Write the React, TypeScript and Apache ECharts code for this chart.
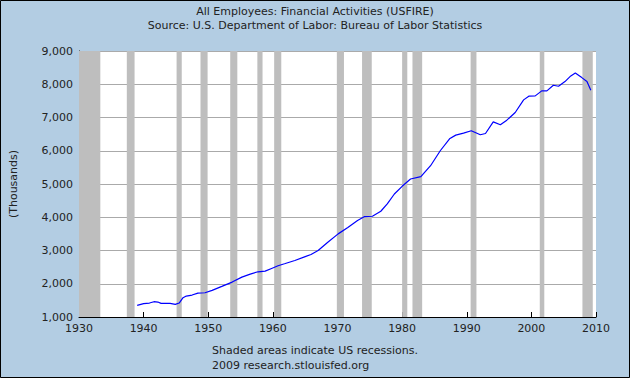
import React, { useEffect, useRef } from "react";
import * as echarts from "echarts";

const titleLines = [
  "All Employees: Financial Activities (USFIRE)",
  "Source: U.S. Department of Labor: Bureau of Labor Statistics",
];
const footerLines = ["Shaded areas indicate US recessions.", "2009 research.stlouisfed.org"];
const yAxisName = "(Thousands)";

const years = [
  1939.0, 1940.0, 1940.9, 1941.6, 1942.2, 1942.7, 1944.1, 1944.9, 1945.5, 1946.1, 1946.6, 1947.5,
  1948.4, 1949.5, 1950.6, 1952.1, 1953.7, 1955.2, 1956.5, 1957.7, 1958.8, 1959.8, 1960.8, 1961.8,
  1963.4, 1964.9, 1965.9, 1967.0, 1968.5, 1970.1, 1971.6, 1973.1, 1974.2, 1975.4, 1976.7, 1977.7,
  1978.8, 1980.0, 1981.3, 1982.9, 1984.4, 1985.9, 1987.4, 1988.3, 1989.5, 1990.7, 1992.1, 1992.9,
  1994.1, 1995.2, 1996.2, 1997.5, 1998.8, 1999.6, 2000.6, 2001.6, 2002.4, 2003.4, 2004.2, 2005.2,
  2006.1, 2006.8, 2007.8, 2008.6, 2009.2,
];
const employees = [
  1350, 1400, 1420, 1460, 1450, 1410, 1410, 1380, 1420, 1580, 1630, 1660,
  1720, 1730, 1800, 1920, 2050, 2200, 2290, 2360, 2380, 2460, 2540, 2600,
  2700, 2810, 2880, 3000, 3250, 3500, 3690, 3900, 4020, 4030, 4180, 4400,
  4700, 4930, 5150, 5220, 5550, 6000, 6370, 6470, 6530, 6600, 6480, 6520,
  6870, 6780, 6920, 7150, 7530, 7640, 7650, 7800, 7800, 7970, 7940, 8080,
  8250, 8340, 8200, 8080, 7820,
];

const recessionStarts = [1930, 1937.4, 1945.1, 1948.8, 1953.4, 1957.6, 1960.2, 1969.9, 1973.8, 1980.0, 1981.6, 1990.6, 2001.3, 2007.9];
const recessionEnds = [1933.3, 1938.6, 1945.9, 1949.9, 1954.5, 1958.4, 1961.3, 1971.0, 1975.3, 1980.8, 1983.1, 1991.5, 2002.0, 2009.5];

const xMin = 1930;
const xMax = 2010;
const yMin = 1000;
const yMax = 9000;

export default function App() {
  const ref = useRef<HTMLDivElement>(null);
  useEffect(() => {
    if (!ref.current) return;
    const chart = echarts.init(ref.current, undefined, { renderer: "svg" });
    const font = "DejaVu Sans";
    const textColor = "#222222";
    chart.setOption({
      animation: false,
      backgroundColor: "#B3CDE3",
      textStyle: { fontFamily: font },
      title: {
        text: titleLines.join("\n"),
        left: "center",
        top: 4,
        padding: 0,
        textStyle: { fontFamily: font, fontSize: 11, fontWeight: "normal", color: textColor, lineHeight: 14 },
      },
      grid: { left: 76, right: 34, top: 51, bottom: 61, show: true, backgroundColor: "#FFFFFF", borderWidth: 0 },
      xAxis: {
        type: "value",
        min: xMin,
        max: xMax,
        interval: 10,
        axisLine: { show: true, lineStyle: { color: "#000000", width: 1 } },
        axisTick: { show: true, inside: true, length: 5, lineStyle: { color: "#000000" } },
        axisLabel: { color: textColor, fontSize: 11, fontFamily: font, margin: 6, formatter: (v: number) => String(v) },
        splitLine: { show: false },
      },
      yAxis: {
        type: "value",
        min: yMin,
        max: yMax,
        interval: 1000,
        name: yAxisName,
        nameLocation: "middle",
        nameRotate: 90,
        nameGap: 60,
        nameTextStyle: { color: textColor, fontSize: 11, fontFamily: font },
        axisLine: { show: true, lineStyle: { color: "#000000", width: 1 } },
        axisTick: { show: true, inside: true, length: 5, lineStyle: { color: "#000000" } },
        axisLabel: {
          color: textColor,
          fontSize: 11,
          fontFamily: font,
          margin: 6,
          formatter: (v: number) => v.toLocaleString("en-US"),
        },
        splitLine: { show: true, lineStyle: { color: "#AAAAAA", width: 1 } },
      },
      series: [
        {
          type: "line",
          data: years.map((y, i) => [y, employees[i]]),
          showSymbol: false,
          symbol: "none",
          lineStyle: { color: "#0000FF", width: 1.2 },
          z: 5,
          markArea: {
            silent: true,
            itemStyle: { color: "#BEBEBE", opacity: 1 },
            data: recessionStarts.map((s, i) => [{ xAxis: s }, { xAxis: recessionEnds[i] }]),
          },
        },
      ],
      graphic: [
        {
          type: "text",
          left: "center",
          top: 343,
          style: { text: footerLines.join("\n"), font: `11px "${font}"`, fill: textColor, lineHeight: 15, align: "center" },
        },
        {
          type: "rect",
          shape: { x: 0.5, y: 0.5, width: 629, height: 377 },
          style: { fill: "none", stroke: "#000000", lineWidth: 1 },
          z: 100,
        },
      ],
    });
    return () => chart.dispose();
  }, []);
  return <div ref={ref} style={{ position: "fixed", left: 0, top: 0, width: 630, height: 378 }} />;
}
